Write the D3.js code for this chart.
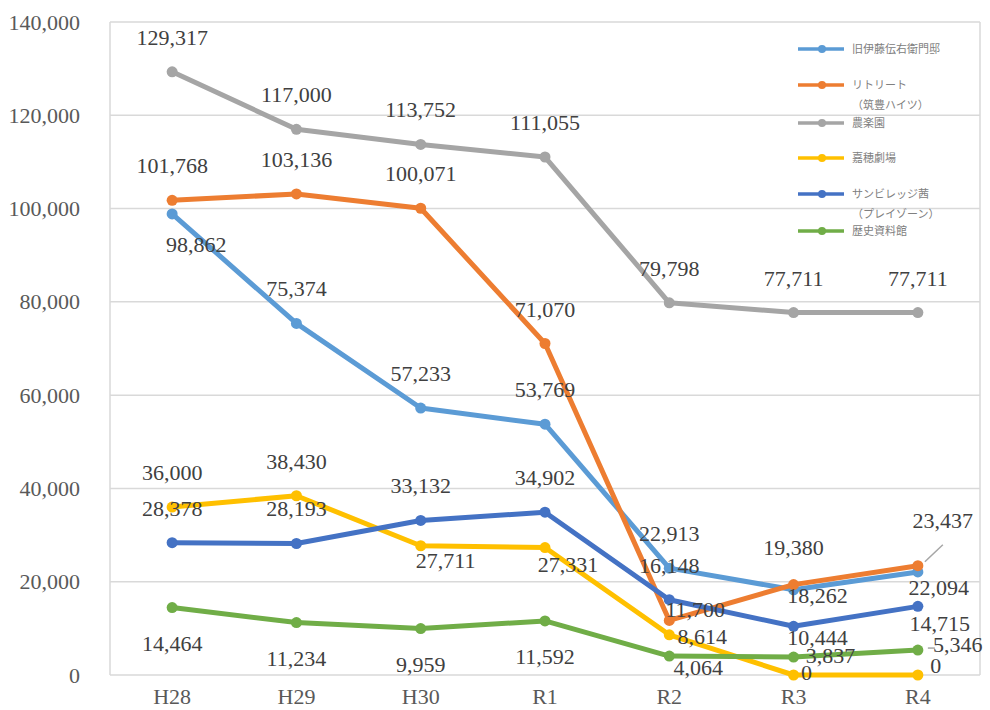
<!DOCTYPE html>
<html>
<head>
<meta charset="utf-8">
<script src="https://cdn.jsdelivr.net/npm/d3@7"></script>
<style>
  body { margin: 0; background: #fff; }
  svg { display: block; }
</style>
</head>
<body>
<div id="chart"></div>
<script>
// Data
const categories = ["H28", "H29", "H30", "R1", "R2", "R3", "R4"];
const seriesNames = [
  ["旧伊藤伝右衛門邸"],
  ["リトリート", "（筑豊ハイツ）"],
  ["農楽園"],
  ["嘉穂劇場"],
  ["サンビレッジ茜", "（プレイゾーン）"],
  ["歴史資料館"],
];
const itoValues = [98862, 75374, 57233, 53769, 22913, 18262, 22094];
const retreatValues = [101768, 103136, 100071, 71070, 11700, 19380, 23437];
const nourakuenValues = [129317, 117000, 113752, 111055, 79798, 77711, 77711];
const kahoValues = [36000, 38430, 27711, 27331, 8614, 0, 0];
const sunVillageValues = [28378, 28193, 33132, 34902, 16148, 10444, 14715];
const museumValues = [14464, 11234, 9959, 11592, 4064, 3837, 5346];
const yTicks = [0, 20000, 40000, 60000, 80000, 100000, 120000, 140000];

const seriesValues = [
  itoValues,
  retreatValues,
  nourakuenValues,
  kahoValues,
  sunVillageValues,
  museumValues,
];
const colors = ["#5B9BD5", "#ED7D31", "#A5A5A5", "#FFC000", "#4472C4", "#70AD47"];

// Label placement (offset of label centre/baseline from the point)
const A = [0, -27];
const B = [0, 43];
const labelOffsets = [
  [[24, 38], A, A, A, A, [24, 13], [21, 23]],
  [A, A, A, A, [26, -3], [0, -30], [25, -38]],
  [A, A, A, A, A, A, A],
  [A, A, [25, 22], [23, 24], [33, 9], [13, 5], [18, -2]],
  [A, A, A, A, A, [24, 19], [22, 25]],
  [B, B, B, B, [29, 19], [37, 6], [40, 2]],
];

// Layout
const width = 990;
const height = 710;
const plot = { left: 110, right: 980, top: 22, bottom: 675 };
const numFmt = d3.format(",");
const labelFont = "'Liberation Serif', 'DejaVu Serif', serif";

const svg = d3
  .select("#chart")
  .append("svg")
  .attr("width", width)
  .attr("height", height);

const x = d3
  .scaleBand()
  .domain(categories)
  .range([plot.left, plot.right])
  .padding(0);
const xc = (c) => x(c) + x.bandwidth() / 2;

const y = d3.scaleLinear().domain([0, 140000]).range([plot.bottom, plot.top]);

// Gridlines
svg
  .append("g")
  .selectAll("line")
  .data(yTicks)
  .enter()
  .append("line")
  .attr("x1", plot.left)
  .attr("x2", plot.right)
  .attr("y1", (d) => y(d))
  .attr("y2", (d) => y(d))
  .attr("stroke", "#d9d9d9")
  .attr("stroke-width", 1.5);

// Plot area side borders
[plot.left, plot.right].forEach((px) => {
  svg
    .append("line")
    .attr("x1", px)
    .attr("x2", px)
    .attr("y1", plot.top)
    .attr("y2", plot.bottom)
    .attr("stroke", "#d9d9d9")
    .attr("stroke-width", 1.5);
});

// Y axis
const yAxis = svg
  .append("g")
  .attr("transform", `translate(${plot.left - 27},0)`)
  .call(d3.axisLeft(y).tickValues(yTicks).tickFormat(numFmt).tickSize(0));
yAxis.select(".domain").remove();
yAxis
  .selectAll("text")
  .attr("font-family", labelFont)
  .attr("font-size", 22)
  .attr("fill", "#595959");

// X axis
const xAxis = svg
  .append("g")
  .attr("transform", `translate(0,${plot.bottom + 10})`)
  .call(d3.axisBottom(x).tickSize(0));
xAxis.select(".domain").remove();
xAxis
  .selectAll("text")
  .attr("font-family", labelFont)
  .attr("font-size", 22)
  .attr("fill", "#595959");

// Lines and markers
const line = d3
  .line()
  .x((d, i) => xc(categories[i]))
  .y((d) => y(d));

seriesValues.forEach((vals, s) => {
  const g = svg.append("g");
  g.append("path")
    .datum(vals)
    .attr("d", line)
    .attr("fill", "none")
    .attr("stroke", colors[s])
    .attr("stroke-width", 5)
    .attr("stroke-linejoin", "round");
  g.selectAll("circle")
    .data(vals)
    .enter()
    .append("circle")
    .attr("cx", (d, i) => xc(categories[i]))
    .attr("cy", (d) => y(d))
    .attr("r", 5.5)
    .attr("fill", colors[s]);
});

// Leader lines (R4 retreat and museum)
const leaders = [
  { s: 1, i: 6, from: [7, -4], to: [25, -21] },
  { s: 5, i: 6, from: [10, -2], to: [17, -2] },
];
leaders.forEach((l) => {
  const px = xc(categories[l.i]);
  const py = y(seriesValues[l.s][l.i]);
  svg
    .append("line")
    .attr("x1", px + l.from[0])
    .attr("y1", py + l.from[1])
    .attr("x2", px + l.to[0])
    .attr("y2", py + l.to[1])
    .attr("stroke", "#a6a6a6")
    .attr("stroke-width", 1.5);
});

// Data labels
seriesValues.forEach((vals, s) => {
  svg
    .append("g")
    .selectAll("text")
    .data(vals)
    .enter()
    .append("text")
    .attr("x", (d, i) => xc(categories[i]) + labelOffsets[s][i][0])
    .attr("y", (d, i) => y(d) + labelOffsets[s][i][1])
    .attr("text-anchor", "middle")
    .attr("font-family", labelFont)
    .attr("font-size", 22)
    .attr("fill", "#404040")
    .text((d) => numFmt(d));
});

// Legend
const legendRows = [49, 85, 123, 158, 194, 231];
const legend = svg
  .append("g")
  .selectAll("g")
  .data(seriesNames)
  .enter()
  .append("g")
  .attr("transform", (d, i) => `translate(798,${legendRows[i]})`);

legend
  .append("line")
  .attr("x1", 0)
  .attr("x2", 46)
  .attr("stroke", (d, i) => colors[i])
  .attr("stroke-width", 3.5);

legend
  .append("circle")
  .attr("cx", 24)
  .attr("r", 4)
  .attr("fill", (d, i) => colors[i]);

legend
  .append("text")
  .attr("x", 54)
  .attr("y", 4)
  .attr("font-family", "'Noto Sans CJK JP', sans-serif")
  .attr("font-size", 11)
  .attr("fill", "#808080")
  .text((d) => d[0]);

legend
  .filter((d) => d.length > 1)
  .append("text")
  .attr("x", 54)
  .attr("y", 24)
  .attr("font-family", "'Noto Sans CJK JP', sans-serif")
  .attr("font-size", 11)
  .attr("fill", "#808080")
  .text((d) => d[1]);
</script>
</body>
</html>
